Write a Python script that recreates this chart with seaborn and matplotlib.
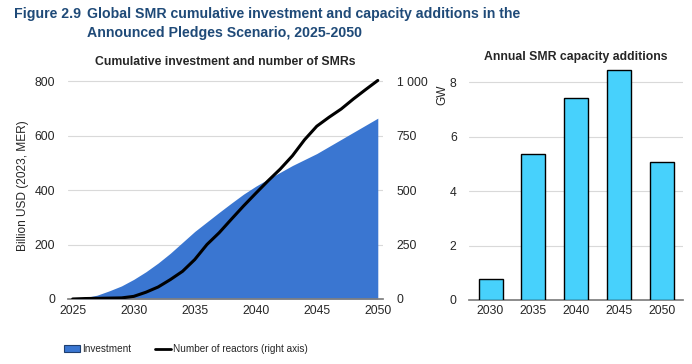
import matplotlib
matplotlib.use("Agg")
import matplotlib.pyplot as plt
import seaborn as sns
import pandas as pd
import numpy as np
from matplotlib.patches import Patch
from matplotlib.lines import Line2D
from matplotlib.ticker import FuncFormatter

years = list(range(2025, 2051))
investment = [0, 5, 14, 30, 48, 72, 100, 132, 168, 208, 248, 283, 318, 352, 385,
              414, 440, 465, 490, 512, 534, 560, 586, 612, 638, 664]
reactors = [0, 2, 3, 4, 5, 12, 31, 55, 89, 127, 181, 250, 304, 366, 427,
            485, 542, 596, 657, 731, 793, 834, 872, 918, 961, 1003]
bar_years = ["2030", "2035", "2040", "2045", "2050"]
capacity = [0.76, 5.38, 7.41, 8.44, 5.05]

sns.set_theme(style="white")
plt.rcParams['font.family'] = ['Liberation Sans', 'DejaVu Sans']

TXT = "#262626"
GRID = "#d9d9d9"
AREA = "#3a76d1"
BAR = "#47d1fc"
HEAD = "#1f4a78"

fig = plt.figure(figsize=(6.92, 3.64), dpi=100)

# Left chart
ax = fig.add_axes([0.098, 0.1786, 0.455, 0.621])
df = pd.DataFrame({"year": years, "investment": investment, "reactors": reactors})
ax.fill_between(df["year"], 0, df["investment"], color=AREA, lw=0, zorder=2)
ax.set_xlim(2024.6, 2050.4)
ax.set_ylim(0, 830)
ax.set_yticks([0, 200, 400, 600, 800])
ax.set_xticks([2025, 2030, 2035, 2040, 2045, 2050])
ax.yaxis.grid(True, color=GRID, lw=0.8, zorder=0)
ax.set_axisbelow(True)
for s in ["top", "right", "left"]:
    ax.spines[s].set_visible(False)
ax.spines["bottom"].set_color("#7f7f7f")
ax.tick_params(axis="both", labelsize=8.8, colors=TXT, length=0)
ax.tick_params(axis="y", pad=9)
ax.tick_params(axis="x", pad=4)
ax.set_ylabel("Billion USD (2023, MER)", fontsize=8.6, color=TXT, labelpad=4)
ax.set_xlabel("")
ax.set_title("Cumulative investment and number of SMRs", fontsize=8.8,
             fontweight="bold", color=TXT, pad=6)

ax2 = ax.twinx()
sns.lineplot(data=df, x="year", y="reactors", ax=ax2, color="black", lw=2.2, zorder=5)
ax2.set_ylim(0, 1037.5)
ax2.set_yticks([0, 250, 500, 750, 1000])
ax2.yaxis.set_major_formatter(FuncFormatter(lambda v, p: f"{int(v):,}".replace(",", " ")))
for s in ["top", "right", "left", "bottom"]:
    ax2.spines[s].set_visible(False)
ax2.tick_params(axis="y", labelsize=8.8, colors=TXT, length=0, pad=10)
ax2.set_ylabel("")
ax2.set_xlabel("")
ax2.set_xlim(2024.6, 2050.4)

# Right chart
bx = fig.add_axes([0.678, 0.176, 0.309, 0.643])
bdf = pd.DataFrame({"year": bar_years, "capacity": capacity})
sns.barplot(data=bdf, x="year", y="capacity", ax=bx, color=BAR, width=0.56,
            edgecolor="black", linewidth=1.0, saturation=1, zorder=3)
bx.set_xlim(-0.5, 4.5)
bx.set_ylim(0, 8.6)
bx.set_yticks([0, 2, 4, 6, 8])
bx.yaxis.grid(True, color=GRID, lw=0.8, zorder=0)
bx.set_axisbelow(True)
for s in ["top", "right", "left"]:
    bx.spines[s].set_visible(False)
bx.spines["bottom"].set_color("#7f7f7f")
bx.tick_params(axis="both", labelsize=8.8, colors=TXT, length=0)
bx.tick_params(axis="y", pad=9)
bx.tick_params(axis="x", pad=4)
bx.set_xlabel("")
bx.set_ylabel("GW", fontsize=8.6, color=TXT)
bx.yaxis.set_label_coords(-0.098, 0.875)
bx.set_title("Annual SMR capacity additions", fontsize=8.8, fontweight="bold",
             color=TXT, pad=4)

# Header
hsize = 10.2
fig.text(14/692, 1 - 14/364, "Figure 2.9", fontsize=hsize, fontweight="bold",
         color=HEAD, va="center", ha="left")
fig.text(87/692, 1 - 14/364, "Global SMR cumulative investment and capacity additions in the",
         fontsize=hsize, fontweight="bold", color=HEAD, va="center", ha="left")
fig.text(87/692, 1 - 33/364, "Announced Pledges Scenario, 2025-2050",
         fontsize=hsize, fontweight="bold", color=HEAD, va="center", ha="left")

# Legend
handles = [Patch(facecolor=AREA, edgecolor="#1f3f6f", lw=0.8, label="Investment"),
           Line2D([0], [0], color="black", lw=2, label="Number of reactors (right axis)")]
fig.legend(handles=handles, loc="center left", bbox_to_anchor=(55/692, 1 - 349/364),
           ncol=2, frameon=False, handlelength=1.6, handletextpad=0.25,
           columnspacing=2.3, labelcolor=TXT, fontsize=7.2)

fig.savefig("out.png", dpi=100)
